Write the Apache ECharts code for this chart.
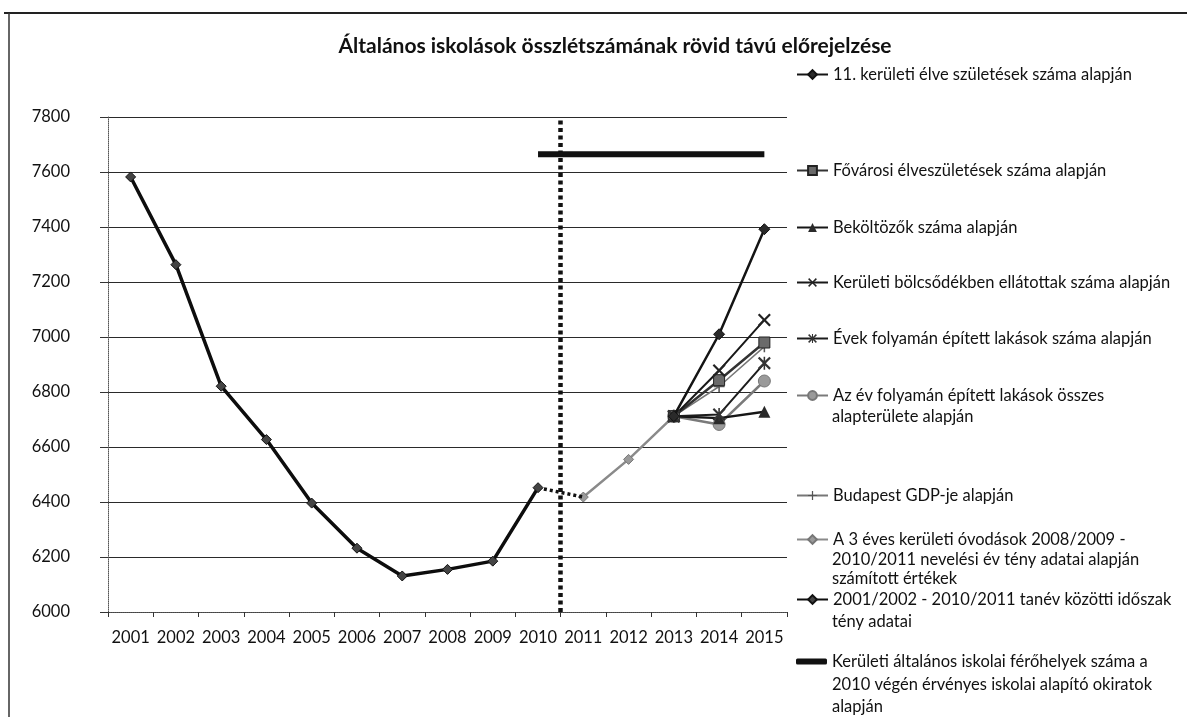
<!DOCTYPE html>
<html><head><meta charset="utf-8">
<script src="https://cdn.jsdelivr.net/npm/echarts@6/dist/echarts.min.js"></script>
<style>html,body{margin:0;padding:0;background:#fff}#c{width:1187px;height:717px}</style>
</head><body><div id="c"></div>
<script>
// ---- data ----
const years = ['2001','2002','2003','2004','2005','2006','2007','2008','2009','2010','2011','2012','2013','2014','2015'];
const tenyAdatok   = [7582, 7263, 6821, 6627, 6396, 6232, 6131, 6155, 6185, 6452, null, null, null, null, null];
const tenyAtmenet  = [null, null, null, null, null, null, null, null, null, 6452, 6418, null, null, null, null];
const ovodasok     = [null, null, null, null, null, null, null, null, null, null, 6418, 6555, 6712, null, null];
const kerSzuletes  = [null, null, null, null, null, null, null, null, null, null, null, null, 6712, 7010, 7392];
const fovarosi     = [null, null, null, null, null, null, null, null, null, null, null, null, 6712, 6843, 6980];
const bekoltozok   = [null, null, null, null, null, null, null, null, null, null, null, null, 6712, 6705, 6728];
const bolcsodek    = [null, null, null, null, null, null, null, null, null, null, null, null, 6712, 6878, 7062];
const lakasokSzama = [null, null, null, null, null, null, null, null, null, null, null, null, 6712, 6718, 6905];
const alapterulet  = [null, null, null, null, null, null, null, null, null, null, null, null, 6712, 6682, 6840];
const gdp          = [null, null, null, null, null, null, null, null, null, null, null, null, 6712, 6820, 6965];
const ferohely     = [null, null, null, null, null, null, null, null, null, 7665, 7665, 7665, 7665, 7665, 7665];
const yTicks = [6000, 6200, 6400, 6600, 6800, 7000, 7200, 7400, 7600, 7800];
const forecastBoundary = 10; // boundary between 2010 and 2011 (category index units)

const names = {
  ker: '11. kerületi élve születések száma  alapján',
  fov: 'Fővárosi élveszületések száma  alapján',
  bek: 'Beköltözők száma  alapján',
  bol: 'Kerületi bölcsődékben ellátottak száma  alapján',
  lak: 'Évek folyamán épített lakások száma  alapján',
  alap: 'Az év folyamán épített lakások összes alapterülete  alapján',
  gdp: 'Budapest GDP-je  alapján',
  ovo: 'A 3 éves kerületi óvodások 2008/2009 - 2010/2011 nevelési év tény adatai  alapján számított  értékek',
  teny: '2001/2002 - 2010/2011 tanév közötti  időszak tény adatai',
  fer: 'Kerületi általános iskolai férőhelyek száma  a 2010 végén érvényes iskolai alapító  okiratok alapján'
};
const legendLines = {
  ker: ['11. kerületi élve születések száma alapján'],
  fov: ['Fővárosi élveszületések száma alapján'],
  bek: ['Beköltözők száma alapján'],
  bol: ['Kerületi bölcsődékben ellátottak száma alapján'],
  lak: ['Évek folyamán épített lakások száma alapján'],
  alap: ['Az év folyamán épített lakások összes', 'alapterülete alapján'],
  gdp: ['Budapest GDP-je alapján'],
  ovo: ['A 3 éves kerületi óvodások 2008/2009 -', '2010/2011 nevelési év tény adatai alapján', 'számított értékek'],
  teny: ['2001/2002 - 2010/2011 tanév közötti időszak', 'tény adatai'],
  fer: ['Kerületi általános iskolai férőhelyek száma a', '2010 végén érvényes iskolai alapító okiratok', 'alapján']
};

// ---- layout ----
const FONT = 'Lato, "Open Sans", sans-serif';
const legendY = { ker: 75, fov: 171, bek: 228, bol: 283, lak: 339, alap: 396, gdp: 496, ovo: 540, teny: 600, fer: 662 };
const lineGap = { alap: 20, ovo: 19, teny: 21, fer: 22 };
const LEG_X = 796, TEXT_X = 832, FS_LEG = 16.5;

const pX = 'path://M0,1.2 L1.2,0 L5,3.8 L8.8,0 L10,1.2 L6.2,5 L10,8.8 L8.8,10 L5,6.2 L1.2,10 L0,8.8 L3.8,5 Z';
const pAst = 'path://M0,1.2 L1.2,0 L5,3.8 L8.8,0 L10,1.2 L6.2,5 L10,8.8 L8.8,10 L5,6.2 L1.2,10 L0,8.8 L3.8,5 Z M4.4,0 L5.6,0 L5.6,10 L4.4,10 Z';
const pPlus = 'path://M4.3,0 L5.7,0 L5.7,4.3 L10,4.3 L10,5.7 L5.7,5.7 L5.7,10 L4.3,10 L4.3,5.7 L0,5.7 L0,4.3 L4.3,4.3 Z';

function lineSeries(key, data, o) {
  return {
    name: names[key], type: 'line', data: data, connectNulls: false,
    symbol: o.symbol, symbolSize: o.size,
    lineStyle: { color: o.line, width: o.width },
    itemStyle: { color: o.fill, borderColor: o.border || o.fill, borderWidth: o.bw || 0 },
    emphasis: { disabled: true }, animation: false, z: o.z || 2
  };
}

const series = [
  lineSeries('ker', kerSzuletes, { symbol: 'diamond', size: 11, line: '#141414', width: 2.5, fill: '#2a2a2a', border: '#111', bw: 1, z: 5 }),
  lineSeries('fov', fovarosi, { symbol: 'rect', size: 11, line: '#333', width: 2.5, fill: '#6a6a6a', border: '#222', bw: 1, z: 4 }),
  lineSeries('bek', bekoltozok, { symbol: 'triangle', size: 12, line: '#161616', width: 2.5, fill: '#2a2a2a', z: 4 }),
  lineSeries('bol', bolcsodek, { symbol: pX, size: 13, line: '#181818', width: 2, fill: '#222', z: 4 }),
  lineSeries('lak', lakasokSzama, { symbol: pAst, size: 13, line: '#1c1c1c', width: 2, fill: '#333', z: 4 }),
  lineSeries('alap', alapterulet, { symbol: 'circle', size: 12, line: '#7a7a7a', width: 2.5, fill: '#9a9a9a', border: '#777', bw: 1, z: 3 }),
  lineSeries('gdp', gdp, { symbol: pPlus, size: 11, line: '#777', width: 1.5, fill: '#555', z: 3 }),
  lineSeries('ovo', ovodasok, { symbol: 'diamond', size: 10, line: '#8a8a8a', width: 2.5, fill: '#9a9a9a', border: '#777', bw: 1, z: 3 }),
  lineSeries('teny', tenyAdatok, { symbol: 'diamond', size: 10, line: '#0d0d0d', width: 3.5, fill: '#444', border: '#111', bw: 1, z: 5 }),
  lineSeries('fer', ferohely, { symbol: 'none', size: 0, line: '#111', width: 6, fill: '#111', z: 5 }),
  {
    name: 'átmenet', type: 'line', data: tenyAtmenet, symbol: 'none', animation: false,
    lineStyle: { color: '#111', width: 3.5, type: [3, 3] }, z: 5, emphasis: { disabled: true }
  },
  {
    name: 'határ', type: 'line', xAxisIndex: 1, data: [], animation: false, silent: true,
    markLine: {
      symbol: 'none', silent: true, animation: false, label: { show: false },
      lineStyle: { color: '#111', width: 4.5, type: [4, 3.5] },
      data: [{ xAxis: forecastBoundary }]
    }
  }
];

const legendKeys = Object.keys(legendY);
const legends = legendKeys.map(k => ({
  data: [k === 'fer'
    ? { name: names[k], icon: 'roundRect', itemStyle: { color: '#111' } }
    : { name: names[k] }],
  left: LEG_X, top: legendY[k] - 9, orient: 'vertical', padding: 0,
  itemWidth: 31, itemHeight: k === 'fer' ? 6 : 11, itemGap: 0, selectedMode: false,
  textStyle: { fontFamily: FONT, fontSize: FS_LEG, color: '#111' },
  formatter: () => legendLines[k][0]
}));

const graphics = [
  { type: 'line', shape: { x1: 4, y1: 13, x2: 1187, y2: 13 }, style: { stroke: '#222', lineWidth: 2 } },
  { type: 'line', shape: { x1: 9, y1: 13, x2: 9, y2: 717 }, style: { stroke: '#333', lineWidth: 1.5 } }
];
legendKeys.forEach(k => {
  legendLines[k].slice(1).forEach((t, i) => {
    graphics.push({ type: 'text', left: TEXT_X, top: legendY[k] - 8 + (i + 1) * (lineGap[k] || 21),
      style: { text: t, fontFamily: FONT, fontSize: FS_LEG, fill: '#111' } });
  });
});

const chart = echarts.init(document.getElementById('c'), null, { renderer: 'canvas' });
chart.setOption({
  backgroundColor: '#fff',
  animation: false,
  title: {
    text: 'Általános iskolások összlétszámának rövid távú előrejelzése',
    left: 610, top: 31, textAlign: 'center',
    textStyle: { fontFamily: FONT, fontSize: 21, fontWeight: 'bold', color: '#111' }
  },
  legend: legends,
  grid: { left: 108, right: 400, top: 117, bottom: 105, containLabel: false },
  xAxis: [{
    type: 'category', data: years, boundaryGap: true,
    axisLine: { lineStyle: { color: '#555', type: 'dotted', width: 1 } },
    axisTick: { show: true, length: 5, lineStyle: { color: '#333' } },
    axisLabel: { fontFamily: FONT, fontSize: 16.5, color: '#111', margin: 17, interval: 0 },
    splitLine: { show: false }
  }, {
    type: 'value', min: 0, max: years.length, show: false
  }],
  yAxis: {
    type: 'value', min: yTicks[0], max: yTicks[yTicks.length - 1], interval: yTicks[1] - yTicks[0],
    axisLine: { show: true, lineStyle: { color: '#555', type: 'dotted', width: 1 } },
    axisTick: { show: true, length: 8, lineStyle: { color: '#333' } },
    axisLabel: { fontFamily: FONT, fontSize: 16.5, color: '#111', margin: 38, formatter: v => String(v) },
    splitLine: { show: true, lineStyle: { color: '#2a2a2a', width: 1.2 } }
  },
  graphic: graphics,
  series: series
});
</script>
</body></html>
